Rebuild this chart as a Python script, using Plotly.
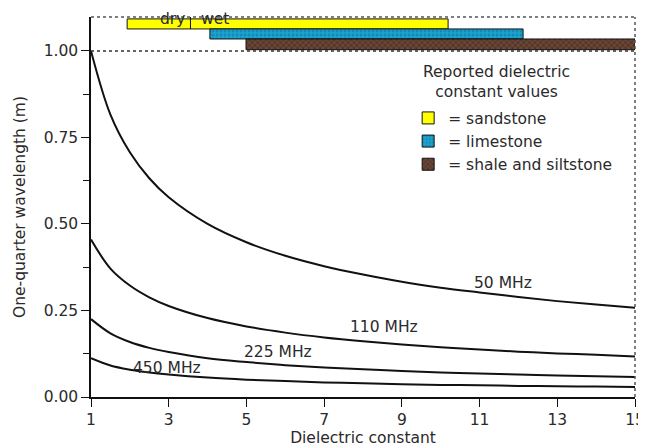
import plotly.graph_objects as go

# ---------------- data ----------------
eps = [1, 1.5, 2, 2.5, 3, 4, 5, 6, 7, 8, 9, 10, 11, 12, 13, 14, 15]
f50 = [1.00, 0.816, 0.707, 0.632, 0.577, 0.500, 0.447, 0.408, 0.378, 0.354, 0.333, 0.316, 0.302, 0.289, 0.277, 0.267, 0.258]
f110 = [0.455, 0.371, 0.322, 0.288, 0.263, 0.228, 0.204, 0.186, 0.172, 0.161, 0.152, 0.144, 0.137, 0.131, 0.126, 0.122, 0.117]
f225 = [0.225, 0.184, 0.159, 0.142, 0.130, 0.112, 0.101, 0.092, 0.085, 0.080, 0.075, 0.071, 0.068, 0.065, 0.062, 0.060, 0.058]
f450 = [0.112, 0.091, 0.079, 0.071, 0.065, 0.056, 0.050, 0.046, 0.042, 0.040, 0.037, 0.035, 0.034, 0.032, 0.031, 0.030, 0.029]
curve_labels = ["50 MHz", "110 MHz", "225 MHz", "450 MHz"]
label_x = [11.6, 8.55, 5.8, 2.95]
label_y = [0.33, 0.203, 0.13, 0.085]

rocks = ["= sandstone", "= limestone", "= shale and siltstone"]
rock_start = [1.93, 4.06, 4.99]
rock_end = [10.19, 12.12, 15.0]
rock_level = [1.078, 1.049, 1.019]
rock_height = [0.029, 0.029, 0.031]
rock_color = ["#ffff00", "#1ba3cf", "#6a4636"]
rock_pattern = ["", ".", "x"]
rock_pfg = ["#ffff00", "#0d6f99", "#2a1a12"]

xticks = [1, 3, 5, 7, 9, 11, 13, 15]
yticks = [0.0, 0.25, 0.5, 0.75, 1.0]
ytick_text = ["0.00", "0.25", "0.50", "0.75", "1.00"]

FONT = "DejaVu Sans, Verdana, sans-serif"
TXT = "#2a2a2a"
FS = 15.5

fig = go.Figure()

for ys in [f50, f110, f225, f450]:
    fig.add_trace(go.Scatter(x=eps, y=ys, mode="lines", line=dict(color="#111", width=2, shape="spline"),
                             showlegend=False, hoverinfo="skip"))

for i in range(3):
    fig.add_trace(go.Bar(
        y=[rock_level[i]], x=[rock_end[i] - rock_start[i]], base=[rock_start[i]],
        orientation="h", width=rock_height[i], name=rocks[i],
        marker=dict(color=rock_color[i], line=dict(color="#111", width=1),
                    pattern=dict(shape=rock_pattern[i], fgcolor=rock_pfg[i], size=4, solidity=0.4)),
        showlegend=True))

for t, x, y in zip(curve_labels, label_x, label_y):
    fig.add_annotation(x=x, y=y, text=t, showarrow=False, font=dict(family=FONT, size=FS, color=TXT))

fig.add_annotation(x=3.1, xref="x", y=0.995, yref="paper", xanchor="center", yanchor="middle",
                   text="dry", showarrow=False, font=dict(family=FONT, size=FS, color=TXT))
fig.add_annotation(x=4.2, xref="x", y=0.995, yref="paper", xanchor="center", yanchor="middle",
                   text="wet", showarrow=False, font=dict(family=FONT, size=FS, color=TXT))
fig.add_shape(type="line", x0=3.56, x1=3.56, y0=1.0635, y1=1.107, line=dict(color="#111", width=1))

# legend heading
fig.add_annotation(x=0.745, xref="paper", y=0.828, yref="paper", xanchor="center", yanchor="middle",
                   text="Reported dielectric<br>constant values",
                   showarrow=False, align="center", font=dict(family=FONT, size=FS, color=TXT))

# borders
fig.add_shape(type="line", xref="paper", yref="paper", x0=0, x1=1, y0=1, y1=1,
              line=dict(color="#555", width=1.5, dash="dot"))
fig.add_shape(type="line", xref="paper", yref="paper", x0=1, x1=1, y0=0, y1=1,
              line=dict(color="#555", width=1.5, dash="dot"))
fig.add_shape(type="line", xref="paper", x0=0, x1=1, y0=1.0, y1=1.0,
              line=dict(color="#333", width=1.5, dash="dot"))

# page body has an 8px default margin, so the figure is shrunk and shifted to match
fig.update_layout(
    width=638, height=440,
    margin=dict(l=83, r=11, t=9, b=51),
    paper_bgcolor="white", plot_bgcolor="white",
    font=dict(family=FONT, size=FS, color=TXT),
    barmode="overlay",
    legend=dict(x=0.583, y=0.778, xanchor="left", yanchor="top",
                font=dict(family=FONT, size=FS, color=TXT),
                bgcolor="rgba(0,0,0,0)", tracegroupgap=0, itemwidth=30),
    xaxis=dict(range=[1, 15], tickvals=xticks, ticks="outside", ticklen=8, tickcolor="#111",
               showline=True, linecolor="#111", linewidth=1.5, showgrid=False, zeroline=False,
               automargin=False,
               title=dict(text="Dielectric constant", standoff=3, font=dict(size=FS)),
               tickfont=dict(size=FS)),
    yaxis=dict(range=[0, 1.098], tickvals=yticks, ticktext=ytick_text, ticks="outside", ticklen=8,
               tickcolor="#111", showline=True, linecolor="#111", linewidth=1.5, showgrid=False,
               zeroline=False, tickfont=dict(size=FS), automargin=False,
               minor=dict(tickvals=[0.125, 0.375, 0.625, 0.875], ticks="outside", ticklen=6, tickcolor="#111"),
               title=dict(text="One-quarter wavelength (m)", standoff=14, font=dict(size=FS))),
)

fig.write_html("out.html")
